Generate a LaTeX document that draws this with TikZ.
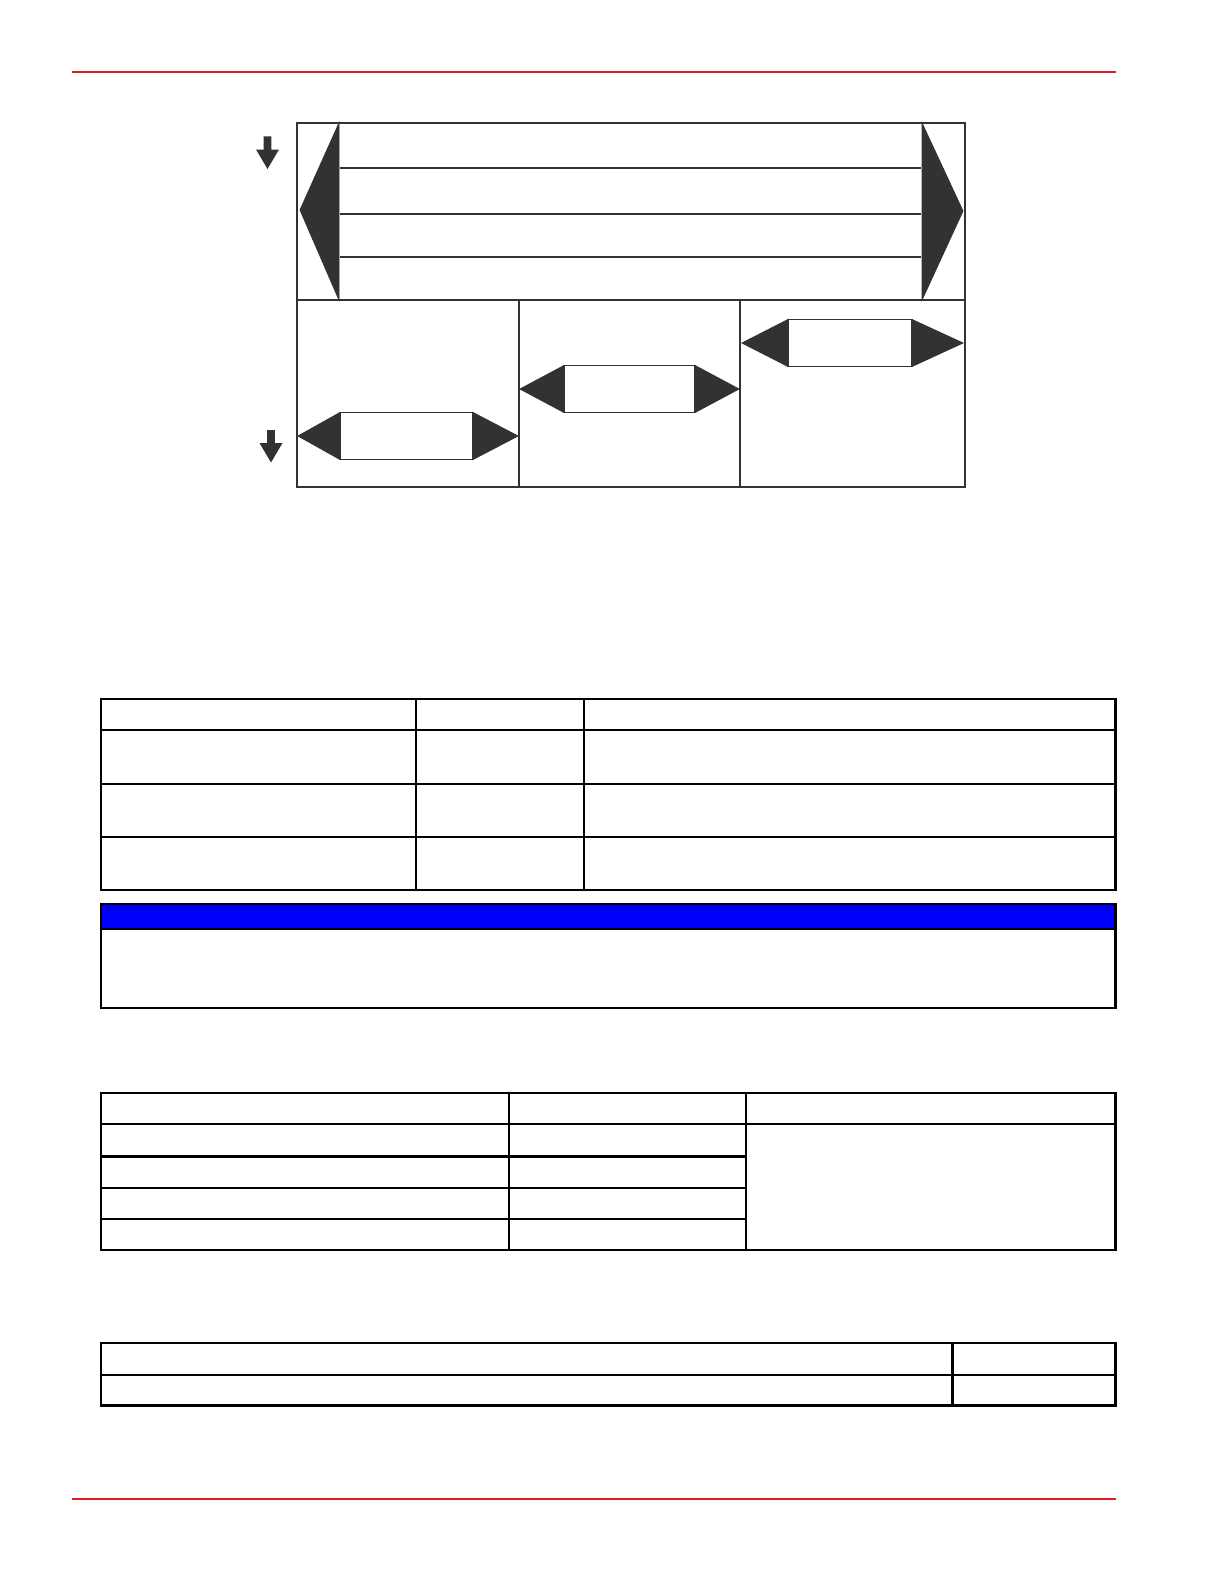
\documentclass[tikz,border=0pt]{standalone}
\usepackage{tikz}
\usepackage{xcolor}
\definecolor{rulered}{RGB}{221,30,38}
\definecolor{darkink}{RGB}{51,49,50}
\definecolor{notebar}{RGB}{0,0,250}
\tikzstyle{pagerule} = [draw=rulered, line width=1pt]
\tikzstyle{frame} = [draw=darkink, line width=0.9pt]
\tikzstyle{wedge} = [fill=darkink, draw=darkink, line width=0.4pt]
\tikzstyle{grid} = [draw=black, line width=1.1pt]
\begin{document}
\begin{tikzpicture}[x=0.5pt, y=-0.5pt]
\useasboundingbox (0,0) rectangle (1224,1584);
\fill[white] (0,0) rectangle (1224,1584);
% page rules
\draw[pagerule] (72,72.5) -- (1116,72.5);
\draw[pagerule] (72,1498.5) -- (1116,1498.5);

% top label plate
\draw[frame] (297,123) rectangle (965,300);
\fill[wedge] (339,123) -- (300,210) -- (339,300) -- cycle;
\fill[wedge] (922,123) -- (963,211) -- (922,300) -- cycle;
\foreach \yy in {168,214,257}
    \draw[frame] (340,\yy) -- (921,\yy);

% three lower cells
\draw[frame] (297,300) rectangle (965,487);
\draw[frame] (519,300) -- (519,487);
\draw[frame] (740,300) -- (740,487);
\foreach \xa/\xb/\xc/\xd/\yy in {298/340/473/518/436, 520/564/695/739/389, 742/788/912/963/343}{
    \fill[wedge] (\xa,\yy) -- (\xb,\yy-23.5) -- (\xb,\yy+23.5) -- cycle;
    \fill[wedge] (\xd,\yy) -- (\xc,\yy-23.5) -- (\xc,\yy+23.5) -- cycle;
    \draw[frame] (\xb,\yy-23.5) rectangle (\xc,\yy+23.5);
}

% small down arrows
\foreach \xx/\yy in {267.5/136.5, 271/430}
    \fill[darkink] (\xx-3.8,\yy) -- (\xx+3.8,\yy) -- (\xx+3.8,\yy+13) -- (\xx+11.5,\yy+13)
        -- (\xx,\yy+32.5) -- (\xx-11.5,\yy+13) -- (\xx-3.8,\yy+13) -- cycle;

% table one
\draw[grid] (101,699) rectangle (1115.5,890);
\foreach \yy in {730,784,837}
    \draw[grid] (101,\yy) -- (1115.5,\yy);
\draw[grid] (416,699) -- (416,890);
\draw[grid] (584,699) -- (584,890);

% note box
\fill[notebar] (101,904) rectangle (1115.5,929);
\draw[grid] (101,904) rectangle (1115.5,1008);
\draw[grid] (101,929) -- (1115.5,929);

% table two
\draw[grid] (101,1093) rectangle (1115.5,1250);
\draw[grid] (101,1124) -- (1115.5,1124);
\foreach \yy in {1156.5,1188,1219}
    \draw[grid] (101,\yy) -- (746,\yy);
\draw[grid] (509,1093) -- (509,1250);
\draw[grid] (746,1093) -- (746,1250);

% table three
\draw[grid] (101,1343) rectangle (1115.5,1405.5);
\draw[grid] (101,1375) -- (1115.5,1375);
\draw[grid] (952.5,1343) -- (952.5,1405.5);
\end{tikzpicture}
\end{document}
